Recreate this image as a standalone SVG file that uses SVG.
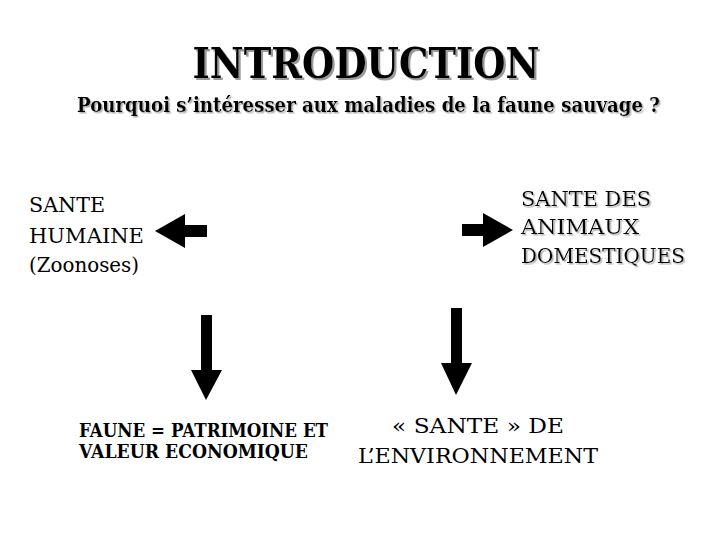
<svg xmlns="http://www.w3.org/2000/svg" width="720" height="540" viewBox="0 0 720 540">
<defs>
<filter id="sh" x="-5%" y="-20%" width="110%" height="150%">
<feDropShadow dx="2" dy="2" stdDeviation="0.4" flood-color="#9a9a9a" flood-opacity="1"/>
</filter>
<filter id="sh2" x="-5%" y="-20%" width="110%" height="150%">
<feDropShadow dx="1.5" dy="1.5" stdDeviation="0.4" flood-color="#b0b0b0" flood-opacity="1"/>
</filter>
</defs>
<style>
text{font-family:'DejaVu Serif','Liberation Serif',serif;fill:#000}
.title{font-size:42px;font-weight:bold;text-anchor:middle}
.sub{font-size:20px;font-weight:bold}
.node{font-size:21px}
.small{font-size:18px;font-weight:bold}
.arrow{fill:#000}
</style>
<rect width="720" height="540" fill="#fff"/>
<g id="title" filter="url(#sh)">
<text class="title" x="366" y="78" textLength="347" lengthAdjust="spacingAndGlyphs">INTRODUCTION</text>
</g>
<g id="subtitle" filter="url(#sh2)">
<text class="sub" x="77" y="112" textLength="583" lengthAdjust="spacingAndGlyphs">Pourquoi s’intéresser aux maladies de la faune sauvage ?</text>
</g>
<g id="sante-humaine">
<text class="node" x="29" y="212" textLength="76" lengthAdjust="spacingAndGlyphs">SANTE</text>
<text class="node" x="29" y="243" textLength="115" lengthAdjust="spacingAndGlyphs">HUMAINE</text>
<text class="node" x="29" y="272" textLength="110" lengthAdjust="spacingAndGlyphs">(Zoonoses)</text>
</g>
<g id="sante-animaux" filter="url(#sh2)">
<text class="node" x="521" y="206" textLength="130" lengthAdjust="spacingAndGlyphs">SANTE DES</text>
<text class="node" x="521" y="234" textLength="118" lengthAdjust="spacingAndGlyphs">ANIMAUX</text>
<text class="node" x="521" y="263" textLength="164" lengthAdjust="spacingAndGlyphs">DOMESTIQUES</text>
</g>
<g id="faune">
<text class="small" x="79" y="437" textLength="249" lengthAdjust="spacingAndGlyphs">FAUNE = PATRIMOINE ET</text>
<text class="small" x="79" y="458" textLength="229" lengthAdjust="spacingAndGlyphs">VALEUR ECONOMIQUE</text>
</g>
<g id="environnement">
<text class="node" x="478" y="433" text-anchor="middle" textLength="172" lengthAdjust="spacingAndGlyphs">« SANTE » DE</text>
<text class="node" x="478" y="463" text-anchor="middle" textLength="240" lengthAdjust="spacingAndGlyphs">L’ENVIRONNEMENT</text>
</g>
<g id="connectors">
<polygon class="arrow" points="207,225 185,225 185,214 155,231 185,248 185,237 207,237"/>
<polygon class="arrow" points="462,224 483,224 483,213 513,230 483,247 483,236 462,236"/>
<polygon class="arrow" points="201,315 212,315 212,370 222,370 206,400 191,370 201,370"/>
<polygon class="arrow" points="451,308 462,308 462,363 472,363 456,395 441,363 451,363"/>
</g>
</svg>
